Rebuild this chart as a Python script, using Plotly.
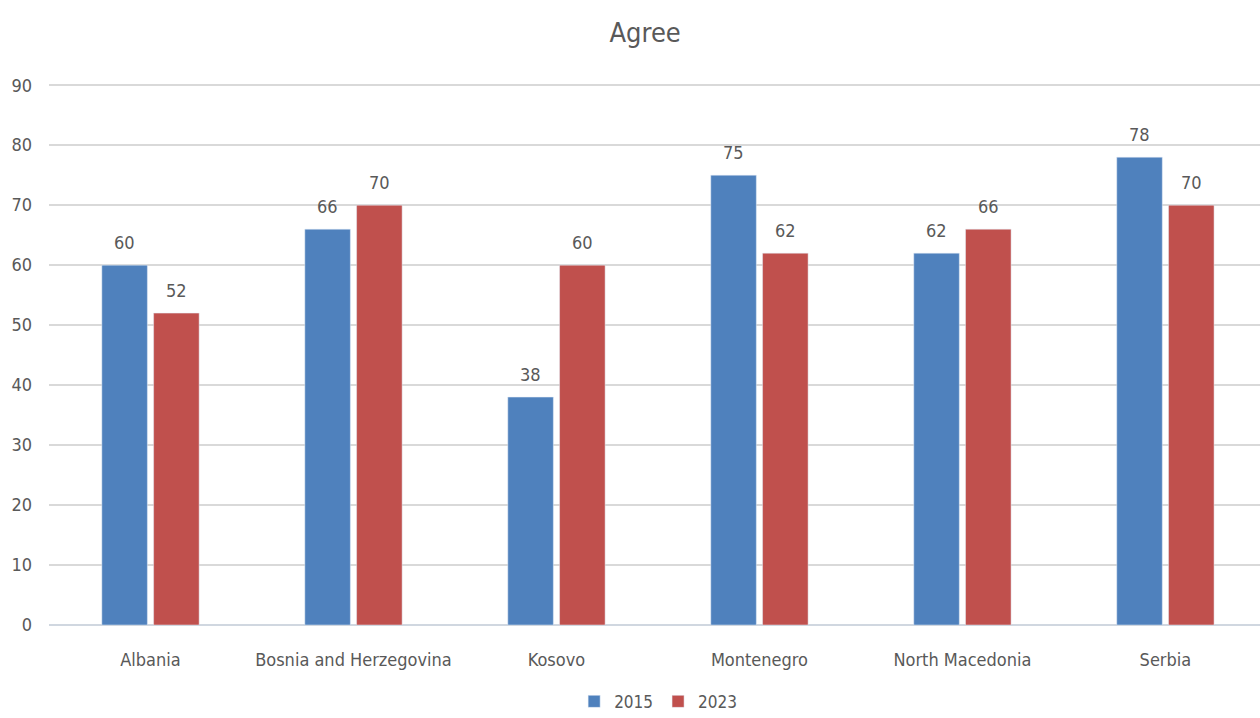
import plotly.graph_objects as go

# Share agreeing, by country and survey year
countries = ["Albania", "Bosnia and Herzegovina", "Kosovo", "Montenegro", "North Macedonia", "Serbia"]
agree_2015 = [60, 66, 38, 75, 62, 78]
agree_2023 = [52, 70, 60, 62, 66, 70]
y_ticks = [0, 10, 20, 30, 40, 50, 60, 70, 80, 90]

FONT = "Liberation Sans Narrow, Arial Narrow, DejaVu Sans Condensed, sans-serif"
TEXT = "#595959"
BLUE = "#4F81BD"
RED = "#C0504D"

fig = go.Figure()
fig.add_trace(go.Bar(name="2015", x=countries, y=agree_2015, marker_color=BLUE,
                     offsetgroup="a"))
fig.add_trace(go.Bar(name="2023", x=countries, y=agree_2023, marker_color=RED,
                     offsetgroup="b"))

# value labels above each bar
slot = 0.254
for vals, off in ((agree_2015, -slot / 2), (agree_2023, slot / 2)):
    for i, v in enumerate(vals):
        fig.add_annotation(x=i + off, y=v, text=str(v), showarrow=False,
                           yanchor="bottom", yshift=10, xref="x", yref="y",
                           font=dict(family=FONT, size=18, color=TEXT))

fig.update_layout(
    width=1260, height=718,
    margin=dict(l=49, r=0, t=84, b=93, autoexpand=False),
    paper_bgcolor="white", plot_bgcolor="white",
    title=dict(text="Agree", x=0.512, xanchor="center", y=0.955, yanchor="middle",
               font=dict(family=FONT, size=27, color=TEXT)),
    barmode="group", bargap=0.49, bargroupgap=0.12,
    showlegend=True,
    legend=dict(orientation="h", x=0.503, xanchor="center", y=-0.142, yanchor="middle",
                font=dict(family=FONT, size=17, color=TEXT), itemwidth=30,
                tracegroupgap=0),
    font=dict(family=FONT, color=TEXT),
)
fig.update_xaxes(type="category", range=[-0.5, 5.466], showgrid=False,
                 showline=False, ticks="", ticklabelstandoff=22, automargin=False,
                 tickfont=dict(family=FONT, size=18, color=TEXT))
fig.update_yaxes(range=[0, 90.2], tickvals=y_ticks, showgrid=True, gridcolor="#d9d9d9",
                 gridwidth=1.5, zeroline=True, zerolinecolor="#d0d7e0", zerolinewidth=1.5,
                 ticklabelstandoff=16, automargin=False,
                 tickfont=dict(family=FONT, size=18, color=TEXT))

fig.write_html("out.html")
